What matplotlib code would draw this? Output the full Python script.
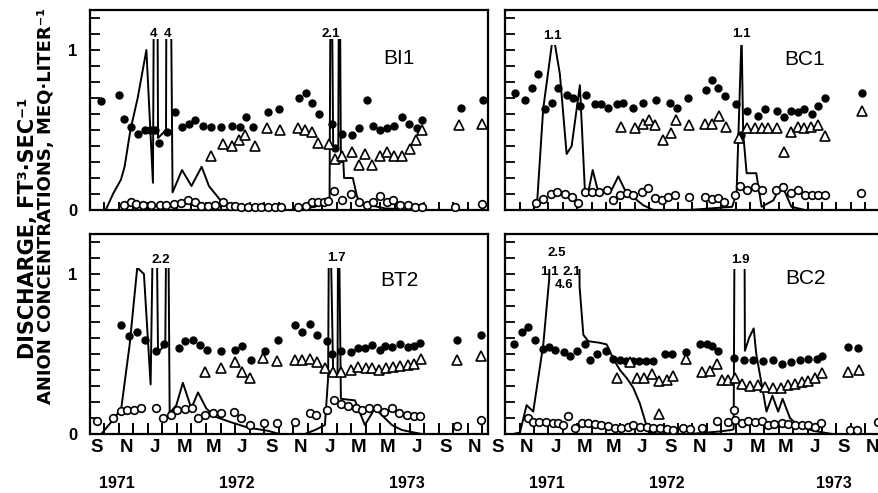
import numpy as np
import matplotlib
matplotlib.use('Agg')
import matplotlib.pyplot as plt
from matplotlib.patches import Rectangle

plt.rcParams['font.family'] = ['Liberation Sans', 'DejaVu Sans']

# x = months counted from mid-September 1971 (month label centres)
month_labels = ['S', 'N', 'J', 'M', 'M', 'J', 'S', 'N', 'J', 'M', 'M', 'J', 'S', 'N']
years = ['1971', '1972', '1973']

# ---------------- BI1 ----------------
bi1_qx = [0.6, 1.1, 1.65, 1.9, 2.3, 2.8, 3.4, 3.85, 4.05, 4.2, 4.75, 4.85, 5.2, 5.85, 6.5,
          7.2, 7.7, 8.5, 9.5, 10.5, 12.0, 13.5, 15.0, 16.0, 16.1, 16.25, 16.6, 16.67, 16.78,
          16.95, 17.0, 17.6, 17.9, 18.3, 19.8, 22.1, 22.5]
bi1_q = [0.0, 0.10, 0.19, 0.27, 0.50, 0.70, 1.00, 0.17, 4.0, 0.45, 0.50, 4.0, 0.11, 0.25, 0.15,
         0.27, 0.15, 0.06, 0.02, 0.0, 0.0, 0.0, 0.02, 0.06, 2.1, 0.38, 0.40, 2.1, 0.30,
         0.30, 0.20, 0.20, 0.08, 0.04, 0.01, 0.0, 0.0]
bi1_fx = [0.30, 1.49, 1.86, 2.32, 2.82, 3.28, 3.62, 3.97, 4.24, 4.84, 5.34, 5.85, 6.30, 6.76,
          7.29, 7.82, 8.55, 9.28, 9.81, 10.27, 10.73, 11.76, 12.50, 13.89, 14.35, 14.81, 15.27,
          16.14, 16.37, 16.87, 17.51, 18.02, 18.55, 19.00, 19.46, 19.92, 20.45, 20.95, 21.46,
          21.99, 22.38, 25.03, 26.57]
bi1_f = [0.68, 0.72, 0.57, 0.52, 0.475, 0.50, 0.50, 0.50, 0.42, 0.49, 0.61, 0.52, 0.54, 0.56,
         0.525, 0.52, 0.52, 0.525, 0.52, 0.58, 0.52, 0.61, 0.63, 0.70, 0.73, 0.67, 0.60,
         0.54, 0.385, 0.475, 0.47, 0.51, 0.69, 0.525, 0.50, 0.51, 0.525, 0.58, 0.54,
         0.51, 0.56, 0.635, 0.69]
bi1_tx = [7.82, 8.67, 9.28, 9.74, 10.20, 10.84, 11.71, 12.56, 13.85, 14.30, 14.81, 15.22, 15.96,
          16.37, 16.87, 17.51, 18.02, 18.43, 18.93, 19.46, 19.92, 20.45, 21.00, 21.53, 21.92,
          22.38, 24.90, 26.46]
bi1_t = [0.34, 0.41, 0.40, 0.44, 0.47, 0.40, 0.51, 0.50, 0.51, 0.50, 0.49, 0.42, 0.41,
         0.32, 0.34, 0.36, 0.28, 0.35, 0.28, 0.34, 0.36, 0.34, 0.34, 0.38, 0.44,
         0.50, 0.53, 0.54]
bi1_ox = [1.86, 2.32, 2.70, 3.16, 3.74, 4.31, 4.77, 5.29, 5.75, 6.26, 6.72, 7.17, 7.63, 8.09,
          8.67, 9.12, 9.47, 9.93, 10.38, 10.84, 11.30, 11.76, 12.22, 12.68, 13.85, 14.35, 14.81,
          15.22, 15.64, 15.92, 16.32, 16.87, 17.47, 18.02, 18.55, 19.00, 19.46, 19.92, 20.38,
          20.84, 21.37, 21.87, 22.33, 24.64, 26.46]
bi1_o = [0.03, 0.05, 0.04, 0.03, 0.03, 0.03, 0.03, 0.04, 0.045, 0.06, 0.05, 0.025, 0.025, 0.03,
         0.05, 0.025, 0.025, 0.02, 0.02, 0.02, 0.02, 0.02, 0.02, 0.02, 0.02, 0.025, 0.05,
         0.05, 0.05, 0.055, 0.12, 0.06, 0.10, 0.05, 0.03, 0.05, 0.09, 0.05, 0.06,
         0.03, 0.03, 0.02, 0.02, 0.02, 0.04]

# ---------------- BC1 ----------------
bc1_qx = [1.62, 2.45, 2.73, 3.14, 3.84, 4.30, 4.77, 5.12, 5.69, 6.05, 6.27, 6.58, 6.97, 7.89,
          8.36, 8.82, 9.39, 10.09, 10.78, 13.28, 16.26, 16.57, 16.92, 17.03, 17.27, 17.62,
          17.94, 18.31, 19.12, 19.70, 20.38, 21.32, 22.40]
bc1_q = [0.0, 0.0, 0.06, 0.63, 1.1, 0.85, 0.35, 0.40, 0.78, 0.10, 0.11, 0.25, 0.11, 0.125,
         0.21, 0.125, 0.08, 0.03, 0.0, 0.0, 0.02, 0.10, 1.1, 0.48, 0.23, 0.23,
         0.23, 0.02, 0.06, 0.16, 0.02, 0.0, 0.0]
bc1_fx = [1.18, 1.87, 2.34, 2.80, 3.27, 3.73, 4.19, 4.77, 5.19, 5.69, 6.11, 6.74, 7.19, 7.67,
          8.24, 8.71, 9.39, 10.09, 10.98, 11.94, 12.41, 13.22, 14.42, 14.89, 15.30, 15.76,
          16.50, 16.88, 17.32, 18.03, 18.54, 19.35, 19.88, 20.35, 20.81, 21.28, 21.79, 22.20,
          22.71, 25.25]
bc1_f = [0.73, 0.69, 0.76, 0.85, 0.63, 0.67, 0.76, 0.72, 0.70, 0.65, 0.72, 0.66, 0.66, 0.64,
         0.66, 0.67, 0.64, 0.67, 0.69, 0.67, 0.635, 0.70, 0.75, 0.81, 0.76, 0.71,
         0.66, 0.47, 0.62, 0.59, 0.63, 0.62, 0.58, 0.62, 0.61, 0.63, 0.60, 0.65,
         0.70, 0.73]
bc1_tx = [8.58, 9.52, 10.09, 10.51, 10.91, 11.43, 11.99, 12.36, 13.29, 14.37, 14.84, 15.35,
          15.81, 16.74, 17.32, 17.85, 18.31, 18.77, 19.35, 19.88, 20.35, 20.81, 21.28, 21.74,
          22.20, 22.71, 25.25]
bc1_t = [0.52, 0.51, 0.54, 0.56, 0.53, 0.44, 0.48, 0.56, 0.53, 0.54, 0.54, 0.59,
         0.52, 0.45, 0.51, 0.51, 0.51, 0.51, 0.51, 0.36, 0.49, 0.52, 0.51, 0.52,
         0.53, 0.46, 0.62]
bc1_ox = [2.64, 3.14, 3.65, 4.12, 4.65, 5.12, 5.58, 6.05, 6.50, 7.04, 7.55, 8.01, 8.47, 8.94,
          9.39, 9.98, 10.44, 10.91, 11.36, 11.83, 12.29, 13.29, 14.37, 14.84, 15.30, 15.72,
          16.46, 16.81, 17.27, 17.85, 18.36, 19.28, 19.82, 20.35, 20.85, 21.32, 21.79, 22.24,
          22.71, 25.21]
bc1_o = [0.046, 0.07, 0.10, 0.115, 0.10, 0.08, 0.046, 0.115, 0.11, 0.11, 0.125, 0.06, 0.094,
         0.104, 0.094, 0.115, 0.135, 0.073, 0.063, 0.083, 0.094, 0.083, 0.083, 0.067, 0.073,
         0.052, 0.094, 0.15, 0.125, 0.146, 0.125, 0.125, 0.146, 0.108, 0.125, 0.094, 0.094,
         0.094, 0.094, 0.108]

# ---------------- BT2 ----------------
bt2_qx = [0.3, 1.21, 1.67, 2.25, 2.77, 3.23, 3.69, 4.0, 4.2, 4.7, 4.84, 5.0, 5.46, 5.91, 6.49,
          6.95, 7.52, 8.09, 9.0, 10.38, 11.76, 12.56, 14.3, 15.0, 15.68, 15.9, 15.98, 16.25,
          16.55, 16.6, 16.78, 17.75, 18.43, 19.12, 20.29, 20.97, 22.33, 23.0]
bt2_q = [0.0, 0.10, 0.16, 0.56, 1.04, 1.0, 0.31, 2.2, 0.51, 0.56, 2.2, 0.13, 0.18, 0.32, 0.16,
         0.26, 0.16, 0.11, 0.08, 0.04, 0.02, 0.0, 0.0, 0.025, 0.056, 0.35, 1.7, 0.37,
         0.37, 1.7, 0.22, 0.21, 0.056, 0.16, 0.056, 0.025, 0.0, 0.0]
bt2_fx = [1.63, 2.18, 2.77, 3.32, 4.08, 4.61, 5.62, 6.07, 6.60, 7.06, 7.59, 8.55, 9.47, 9.97,
          10.57, 11.53, 12.45, 13.62, 14.08, 14.65, 15.17, 15.79, 16.19, 16.78, 17.47, 17.93,
          18.43, 18.89, 19.46, 19.80, 20.31, 20.84, 21.37, 21.83, 22.21, 24.80, 26.45]
bt2_f = [0.68, 0.61, 0.64, 0.59, 0.52, 0.56, 0.54, 0.58, 0.59, 0.555, 0.525, 0.52, 0.525, 0.55,
         0.46, 0.52, 0.59, 0.68, 0.64, 0.69, 0.62, 0.58, 0.50, 0.52, 0.51, 0.54,
         0.54, 0.555, 0.525, 0.55, 0.545, 0.56, 0.545, 0.55, 0.57, 0.59, 0.62]
bt2_tx = [7.45, 8.50, 9.47, 9.97, 10.55, 11.42, 12.40, 13.62, 14.13, 14.65, 15.17, 15.72, 16.25,
          16.78, 17.47, 17.93, 18.48, 18.94, 19.39, 19.85, 20.38, 20.84, 21.37, 21.83, 22.29,
          24.80, 26.41]
bt2_t = [0.39, 0.415, 0.45, 0.39, 0.35, 0.477, 0.456, 0.46, 0.46, 0.47, 0.45, 0.415, 0.39,
         0.39, 0.40, 0.42, 0.41, 0.41, 0.40, 0.415, 0.42, 0.425, 0.43, 0.44, 0.47,
         0.46, 0.49]
bt2_ox = [0.00, 1.10, 1.63, 2.09, 2.54, 3.00, 4.08, 4.54, 5.07, 5.52, 6.03, 6.53, 6.95, 7.40,
          7.98, 8.50, 9.42, 9.92, 10.50, 11.48, 12.40, 13.62, 14.65, 15.04, 15.79, 16.32, 16.78,
          17.24, 17.79, 18.25, 18.71, 19.23, 19.76, 20.31, 20.77, 21.30, 21.83, 22.21, 24.80, 26.45]
bt2_o = [0.08, 0.10, 0.144, 0.15, 0.15, 0.16, 0.165, 0.10, 0.12, 0.15, 0.156, 0.165, 0.098, 0.12,
         0.13, 0.13, 0.14, 0.10, 0.056, 0.067, 0.067, 0.077, 0.13, 0.12, 0.15, 0.213, 0.19,
         0.175, 0.165, 0.15, 0.165, 0.16, 0.14, 0.16, 0.13, 0.12, 0.11, 0.11, 0.05, 0.09]

# ---------------- BC2 ----------------
bc2_qx = [1.06, 1.53, 1.99, 2.45, 3.15, 3.56, 3.75, 4.15, 4.96, 5.37, 5.67, 5.93, 6.27, 7.08,
          7.55, 8.01, 8.47, 8.94, 9.39, 9.86, 10.44, 11.25, 13.28, 15.30, 16.22, 16.37, 16.46,
          16.83, 17.10, 17.15, 17.44, 17.76, 17.94, 18.65, 19.06, 19.46, 19.77, 20.28, 20.88,
          21.90, 23.22, 25.45, 26.46]
bc2_q = [0.0, 0.01, 0.18, 0.14, 0.56, 0.97, 2.5, 1.1, 2.1, 4.6, 0.92, 0.62, 0.58, 0.57,
         0.56, 0.47, 0.40, 0.35, 0.29, 0.19, 0.015, 0.0, 0.0, 0.015, 0.025, 0.03, 1.9,
         1.9, 1.9, 0.52, 0.60, 0.66, 0.50, 0.14, 0.24, 0.14, 0.22, 0.10, 0.05,
         0.02, 0.0, 0.0, 0.0]
bc2_fx = [1.11, 1.65, 2.10, 2.57, 3.10, 3.56, 3.96, 4.58, 5.00, 5.46, 6.04, 6.39, 6.85, 7.50,
          8.01, 8.47, 8.92, 9.37, 9.83, 10.29, 10.74, 11.60, 12.06, 13.06, 14.03, 14.50, 14.90,
          15.31, 16.41, 17.10, 17.73, 18.43, 19.12, 19.70, 20.35, 20.98, 21.55, 22.13, 22.49,
          24.29, 24.99]
bc2_f = [0.56, 0.635, 0.67, 0.59, 0.53, 0.545, 0.525, 0.51, 0.485, 0.52, 0.56, 0.46, 0.50, 0.52,
         0.47, 0.46, 0.455, 0.455, 0.455, 0.455, 0.455, 0.50, 0.50, 0.51, 0.56, 0.56, 0.55,
         0.52, 0.477, 0.46, 0.46, 0.455, 0.46, 0.44, 0.45, 0.46, 0.47, 0.47, 0.49,
         0.545, 0.535]
bc2_tx = [8.24, 9.17, 9.63, 10.14, 10.67, 11.20, 11.20, 11.72, 12.17, 13.06, 14.14, 14.72,
          15.21, 15.54, 15.99, 16.46, 16.97, 17.50, 18.03, 18.54, 19.12, 19.66, 20.16, 20.63,
          21.09, 21.55, 22.01, 22.49, 24.33, 25.07]
bc2_t = [0.35, 0.45, 0.35, 0.35, 0.375, 0.33, 0.125, 0.34, 0.36, 0.47, 0.39, 0.395,
         0.44, 0.34, 0.34, 0.35, 0.31, 0.30, 0.306, 0.296, 0.29, 0.29, 0.306, 0.31,
         0.327, 0.33, 0.35, 0.38, 0.385, 0.40]
bc2_ox = [2.10, 2.45, 2.87, 3.33, 3.80, 4.19, 4.54, 4.88, 5.35, 5.81, 6.27, 6.74, 7.19, 7.66,
          8.13, 8.58, 9.05, 9.39, 9.86, 10.33, 10.78, 11.25, 11.72, 12.17, 12.87, 13.33, 14.14,
          15.18, 15.99, 16.41, 16.46, 16.97, 17.39, 17.85, 18.31, 18.77, 19.19, 19.70, 20.16,
          20.63, 21.09, 21.55, 22.01, 22.43, 24.43, 24.91, 26.36]
bc2_o = [0.10, 0.077, 0.077, 0.073, 0.067, 0.067, 0.056, 0.115, 0.04, 0.067, 0.067, 0.06, 0.056,
         0.05, 0.04, 0.04, 0.046, 0.056, 0.046, 0.046, 0.04, 0.04, 0.031, 0.025, 0.04, 0.031,
         0.04, 0.081, 0.077, 0.15, 0.087, 0.067, 0.081, 0.077, 0.081, 0.056, 0.06, 0.067,
         0.06, 0.056, 0.056, 0.056, 0.046, 0.067, 0.025, 0.025, 0.077]

# off-scale discharge peaks written above the curve: (x, y, text)
bi1_peaks = [(3.9, 1.1, '4'), (4.85, 1.1, '4'), (16.1, 1.1, '2.1')]
bc1_peaks = [(3.75, 1.09, '1.1'), (16.93, 1.1, '1.1')]
bt2_peaks = [(4.4, 1.09, '2.2'), (16.5, 1.1, '1.7')]
bc2_peaks = [(4.10, 1.13, '2.5'), (3.55, 1.01, '1.1'), (5.15, 1.01, '2.1'),
             (4.59, 0.93, '4.6'), (16.83, 1.09, '1.9')]

fig = plt.figure(figsize=(8.79, 4.93), dpi=100)
W = 398 / 879
H = 200 / 493
ax_bi1 = fig.add_axes([90 / 879, 1 - 210 / 493, W, H])
ax_bc1 = fig.add_axes([505 / 879, 1 - 210 / 493, W, H])
ax_bt2 = fig.add_axes([90 / 879, 1 - 434 / 493, W, H])
ax_bc2 = fig.add_axes([505 / 879, 1 - 434 / 493, W, H])


def draw(ax, xlim, qx, q, cap, fx, f, tx, t, ox, o, name, name_xy, peaks,
         left=False, bottom=False, years_x=None):
    line, = ax.plot(qx, q, color='black', lw=1.4, zorder=2)
    line.set_clip_path(Rectangle((xlim[0], -0.2), xlim[1] - xlim[0], cap + 0.2,
                                 transform=ax.transData))
    ax.plot(fx, f, 'o', color='black', ms=5, clip_on=False, zorder=3)
    ax.plot(tx, t, '^', mfc='white', mec='black', ms=6.5, mew=1.2, clip_on=False, zorder=3)
    ax.plot(ox, o, 'o', mfc='white', mec='black', ms=5.5, mew=1.2, clip_on=False, zorder=4)
    for px, py, s in peaks:
        ax.text(px, py, s, ha='center', va='center', fontsize=9.5, fontweight='bold')
    ax.text(name_xy[0], name_xy[1], name, ha='center', va='center', fontsize=15)

    for sp in ax.spines.values():
        sp.set_linewidth(1.6)
    ticks = np.arange(0.5, 28, 1)
    ax.set_xticks(ticks[(ticks > xlim[0]) & (ticks < xlim[1])])
    ax.tick_params(axis='x', direction='in', length=8 if bottom else 6,
                   width=1.4, labelbottom=False)
    ax.set_xlim(xlim)
    if bottom:
        xt = ax.get_xaxis_transform()
        for k, lab in zip(range(0, 28, 2), month_labels):
            ax.text(k, -0.065, lab, transform=xt, ha='center', va='center',
                    fontsize=13.5, fontweight='bold', clip_on=False)
        for yx, yl in zip(years_x, years):
            ax.text(yx, -0.245, yl, transform=xt, ha='center',
                    va='center', fontsize=11.5, fontweight='bold')

    yt = np.round(np.arange(0, 1.21, 0.1), 2)
    ax.set_yticks(yt)
    labels = ['0' if v == 0 else ('1' if v == 1 else '') for v in yt]
    ax.set_yticklabels(labels if left else [''] * len(yt), fontsize=12, fontweight='bold')
    ax.tick_params(axis='y', direction='in', length=7, width=1.3, pad=9)
    ax.set_ylim(0, 1.25)


left_lim = (-0.48, 26.9)
right_lim = (0.49, 28.13)
draw(ax_bi1, left_lim, bi1_qx, bi1_q, 1.07, bi1_fx, bi1_f, bi1_tx, bi1_t, bi1_ox, bi1_o,
     'BI1', (20.8, 0.95), bi1_peaks, left=True)
draw(ax_bc1, right_lim, bc1_qx, bc1_q, 1.03, bc1_fx, bc1_f, bc1_tx, bc1_t, bc1_ox, bc1_o,
     'BC1', (21.29, 0.94), bc1_peaks)
draw(ax_bt2, left_lim, bt2_qx, bt2_q, 1.04, bt2_fx, bt2_f, bt2_tx, bt2_t, bt2_ox, bt2_o,
     'BT2', (20.8, 0.96), bt2_peaks, left=True, bottom=True, years_x=[1.4, 9.6, 21.3])
draw(ax_bc2, right_lim, bc2_qx, bc2_q, 1.03, bc2_fx, bc2_f, bc2_tx, bc2_t, bc2_ox, bc2_o,
     'BC2', (21.34, 0.97), bc2_peaks, bottom=True, years_x=[3.4, 11.7, 23.3])

fig.text(28 / 879, 1 - 228 / 493, 'DISCHARGE, FT³·SEC⁻¹', rotation=90, ha='center',
         va='center', fontsize=15, fontweight='bold', family='DejaVu Sans')
fig.text(46 / 879, 1 - 206 / 493, 'ANION CONCENTRATIONS, MEQ·LITER⁻¹', rotation=90,
         ha='center', va='center', fontsize=13, fontweight='bold', family='DejaVu Sans')

fig.savefig('out.png', dpi=100)
